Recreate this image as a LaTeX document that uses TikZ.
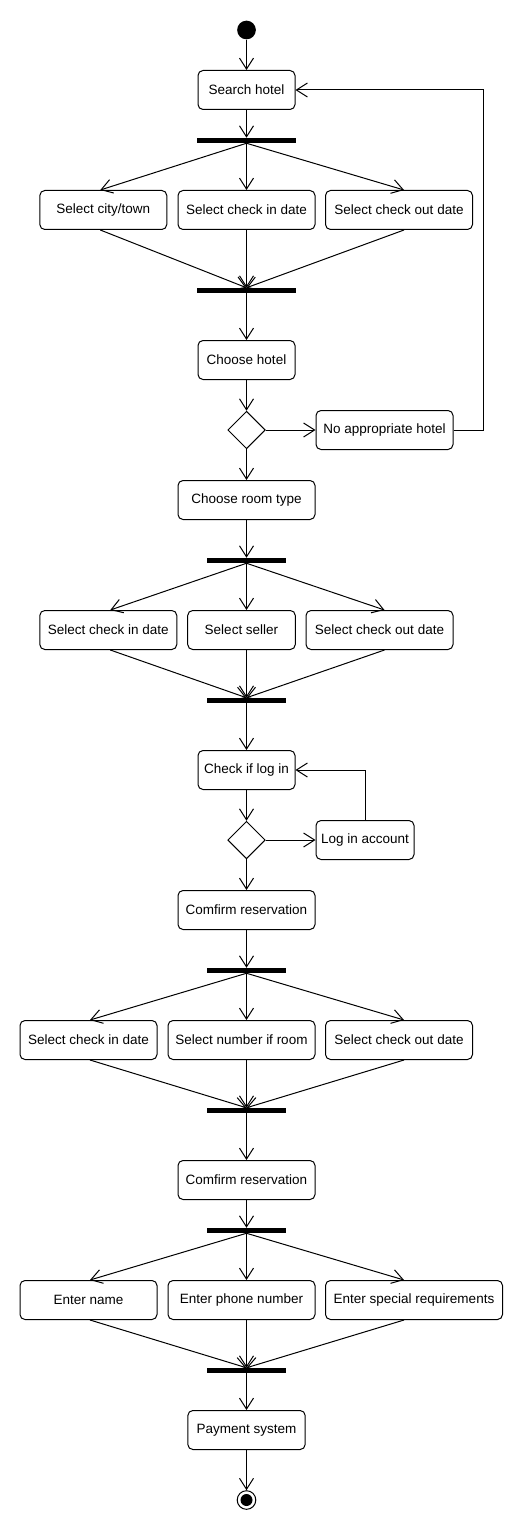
\documentclass[tikz,border=0pt]{standalone}
\usepackage{fontspec}
\setmainfont{Liberation Sans}
\usetikzlibrary{arrows.meta,shapes.geometric}

\tikzset{
  act/.style={draw, rounded corners=5pt, minimum height=39pt, inner sep=2pt, font=\fontsize{13.5}{16}\selectfont},
  bar/.style={fill=black, inner sep=0pt, minimum height=4.5pt},
  choice/.style={draw, diamond, aspect=1, inner sep=0pt, minimum size=37.5pt},
  flow/.style={-{Straight Barb[length=11pt,width=14pt]}},
}

\begin{document}
\begin{tikzpicture}[x=1pt,y=-1pt,line width=1pt]
        \useasboundingbox (0,0) rectangle (530,1530);

        \node[circle, fill, inner sep=0pt, minimum size=18.7pt] (start) at (246.5,30) {};
        \node[act, minimum width=97pt] (search) at (246.5,90) {Search hotel};
        \node[bar, minimum width=99pt] (fork1) at (246.5,140.5) {};
        \node[act, minimum width=127pt] (city) at (103.3,210) {Select city/town};
        \node[act, minimum width=137pt] (in1) at (246.5,210) {Select check in date};
        \node[act, minimum width=147pt] (out1) at (399,210) {Select check out date};
        \node[bar, minimum width=99pt] (join1) at (246.5,290.5) {};
        \node[act, minimum width=97pt] (hotel) at (246.5,360) {Choose hotel};
        \node[choice] (dec1) at (246.5,430) {};
        \node[act, minimum width=137pt] (noapp) at (384.5,430) {No appropriate hotel};
        \node[act, minimum width=137pt] (room) at (246.5,500) {Choose room type};

        \node[bar, minimum width=79pt] (fork2) at (246.5,560.5) {};
        \node[act, minimum width=137pt] (in2) at (108.3,630) {Select check in date};
        \node[act, minimum width=107.6pt] (seller) at (241.5,630) {Select seller};
        \node[act, minimum width=147pt] (out2) at (379.5,630) {Select check out date};
        \node[bar, minimum width=79pt] (join2) at (246.5,700.5) {};
        \node[act, minimum width=97pt] (logchk) at (246.5,770) {Check if log in};
        \node[choice] (dec2) at (246.5,840) {};
        \node[act, minimum width=98pt] (login) at (365,840) {Log in account};
        \node[act, minimum width=137pt] (conf1) at (246.5,910) {Comfirm reservation};

        \node[bar, minimum width=79pt] (fork3) at (246.5,970.5) {};
        \node[act, minimum width=137pt] (in3) at (88.5,1040) {Select check in date};
        \node[act, minimum width=147pt] (number) at (241.5,1040) {Select number if room};
        \node[act, minimum width=147pt] (out3) at (399,1040) {Select check out date};
        \node[bar, minimum width=79pt] (join3) at (246.5,1110.5) {};
        \node[act, minimum width=137pt] (conf2) at (246.5,1180) {Comfirm reservation};

        \node[bar, minimum width=79pt] (fork4) at (246.5,1230.5) {};
        \node[act, minimum width=137pt] (name) at (88.5,1300) {Enter name};
        \node[act, minimum width=147pt] (phone) at (241.5,1300) {Enter phone number};
        \node[act, minimum width=177pt] (special) at (414,1300) {Enter special requirements};
        \node[bar, minimum width=79pt] (join4) at (246.5,1370.5) {};
        \node[act, minimum width=117.3pt] (pay) at (246.5,1430) {Payment system};
        \node[circle, draw, inner sep=0pt, minimum size=18.6pt] (end) at (246.5,1500) {};
        \fill (end) circle (6pt);

        \foreach \a/\b in {start/search, search/fork1, join1/hotel, hotel/dec1, dec1/room,
                           dec1/noapp, room/fork2, join2/logchk, logchk/dec2, dec2/login,
                           dec2/conf1, conf1/fork3, join3/conf2, conf2/fork4, join4/pay, pay/end}
            \draw[flow] (\a) -- (\b);

        \foreach \f/\j/\a/\b/\c/\da/\dc in {fork1/join1/city/in1/out1/-3pt/5pt,
                                            fork2/join2/in2/seller/out2/2pt/5pt,
                                            fork3/join3/in3/number/out3/1.5pt/5pt,
                                            fork4/join4/name/phone/special/1.5pt/-10pt}
        {
            \draw[flow] (\f.south) -- ([xshift=\da]\a.north);
            \draw[flow] (\f.south) -- (\f.south |- \b.north);
            \draw[flow] (\f.south) -- ([xshift=\dc]\c.north);
            \draw[flow] ([xshift=\da]\a.south) -- (\j.north);
            \draw[flow] (\f.south |- \b.south) -- (\j.north);
            \draw[flow] ([xshift=\dc]\c.south) -- (\j.north);
        }

        \coordinate (back1) at (483.3,430);
        \draw[flow] (noapp.east) -- (back1) |- (search.east);
        \draw[flow] (login.north) |- (logchk.east);
    \end{tikzpicture}
\end{document}
